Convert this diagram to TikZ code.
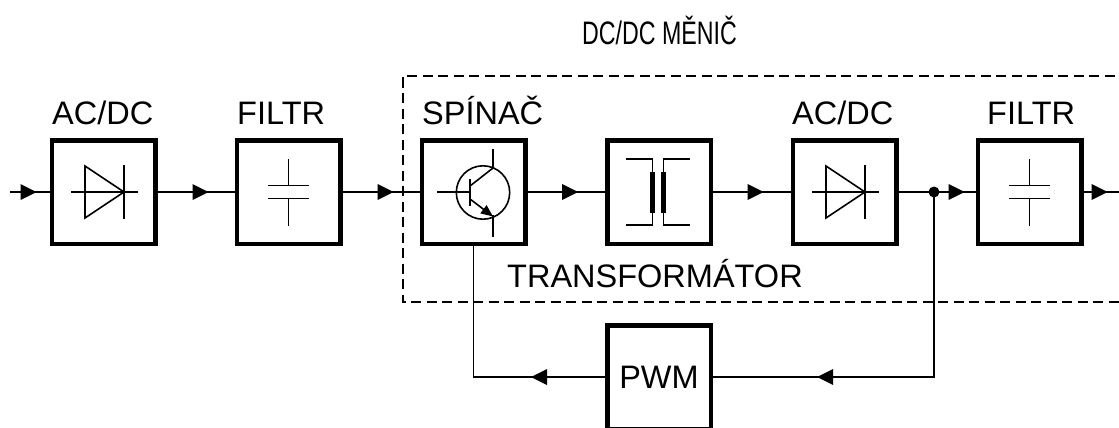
\documentclass[tikz,border=0pt]{standalone}
\usepackage{fontspec}
\setmainfont{Liberation Sans}
\usetikzlibrary{arrows.meta,decorations.markings}
\tikzset{ftip/.tip={Triangle[length=16pt 0 0,width=16pt 0 0,line width=0pt]}}
\begin{document}
\begin{tikzpicture}[x=1pt,y=-1pt,
  blk/.style={draw,line width=4.5pt,minimum width=103.5pt,minimum height=103.5pt,inner sep=0pt},
  wire/.style={line width=1.7pt},
  sym/.style={line width=1.6pt},
  lbl/.style={inner sep=0pt,anchor=base west,font=\fontsize{32.5}{39}\selectfont},
  midarrow/.style={postaction={decorate},decoration={markings,mark=at position #1 with {\arrow{ftip}}}}
]
\useasboundingbox (0,0) rectangle (1119,428);

% dashed frame
\draw[line width=1.4pt,dash pattern=on 10pt off 5.5pt] (1130,76) -- (403,76) -- (403,302) -- (1130,302);

% blocks
\node[blk] (b1) at (103.5,192) {};
\node[blk] (b2) at (288.5,192) {};
\node[blk] (b3) at (473.5,192) {};
\node[blk] (b4) at (659,192) {};
\node[blk] (b5) at (844.5,192) {};
\node[blk] (b6) at (1029.5,192) {};
\node[blk,font=\fontsize{32.5}{39}\selectfont] (pwm) at (659,377) {PWM};

% labels
\node[lbl] (l1) at (52,124) {AC/DC};
\node[lbl] (l2) at (237,124) {FILTR};
\node[lbl] (l3) at (422,124) {SPÍNAČ};
\node[lbl] (l5) at (792,124) {AC/DC};
\node[lbl] (l6) at (987,124) {FILTR};
\node[lbl] (l4) at (507,287) {TRANSFORMÁTOR};
\begin{scope}[shift={(582,45)},xscale=0.714]
  \node[lbl,transform shape] (title) at (0,0) {DC/DC MĚNIČ};
\end{scope}

% diode symbols
\foreach \b in {b1,b5}{
  \begin{scope}[shift={(\b.center)},sym]
    \draw (-18.5,-26) -- (-18.5,26) -- (20.5,0) -- cycle;
    \draw (-32.5,0) -- (34.5,0);
    \draw (20.5,-27) -- (20.5,27);
  \end{scope}
}
% capacitor symbols
\foreach \b in {b2,b6}{
  \begin{scope}[shift={(\b.center)},sym]
    \draw (-20.5,-6.5) -- (20.5,-6.5);
    \draw (-20.5,6.5) -- (20.5,6.5);
    \draw (0,-33) -- (0,-6.5);
    \draw (0,6.5) -- (0,34);
  \end{scope}
}
% transistor
\begin{scope}[shift={(b3.center)},sym]
  \draw (9.5,0.5) circle[radius=26.7];
  \draw (-36.5,0) -- (-3.5,0);
  \draw (-3.5,-13) -- (-3.5,14);
  \draw (-3.5,-6) -- (19.5,-24) -- (19.5,-43);
  \draw[-{Triangle[length=12pt,width=10pt]}] (-3.5,7) -- (19.5,24.5);
  \draw (19.5,23) -- (19.5,45);
\end{scope}
% transformer
\begin{scope}[shift={(b4.center)},sym]
  \draw (-33,-33) -- (-6.5,-33) -- (-6.5,33) -- (-33,33);
  \draw (31,-33) -- (4.5,-33) -- (4.5,33) -- (31,33);
  \draw[line width=4.5pt] (-6.5,-20) -- (-6.5,21);
  \draw[line width=4.5pt] (4.5,-20) -- (4.5,21);
\end{scope}

% connectors
\coordinate (in) at (10,192);
\coordinate (out) at (1125,192);
\node[circle,fill,inner sep=0pt,minimum size=11pt] (dot) at (934,192) {};

\draw[wire,midarrow=-13pt] (in) -- (b1.west);
\draw[wire,midarrow=-26pt] (b1.east) -- (b2.west);
\draw[wire,midarrow=-26pt] (b2.east) -- (b3.west);
\draw[wire,midarrow=-27pt] (b3.east) -- (b4.west);
\draw[wire,midarrow=-27pt] (b4.east) -- (b5.west);
\draw[wire] (b5.east) -- (dot.center);
\draw[wire,midarrow=-11pt] (dot.center) -- (b6.west);
\draw[wire,midarrow=24pt] (b6.east) -- (out);
\draw[wire,midarrow=-104pt] (dot.center) |- (pwm.east);
\draw[wire,midarrow=74pt] (pwm.west) -| (b3.south);
\end{tikzpicture}
\end{document}
